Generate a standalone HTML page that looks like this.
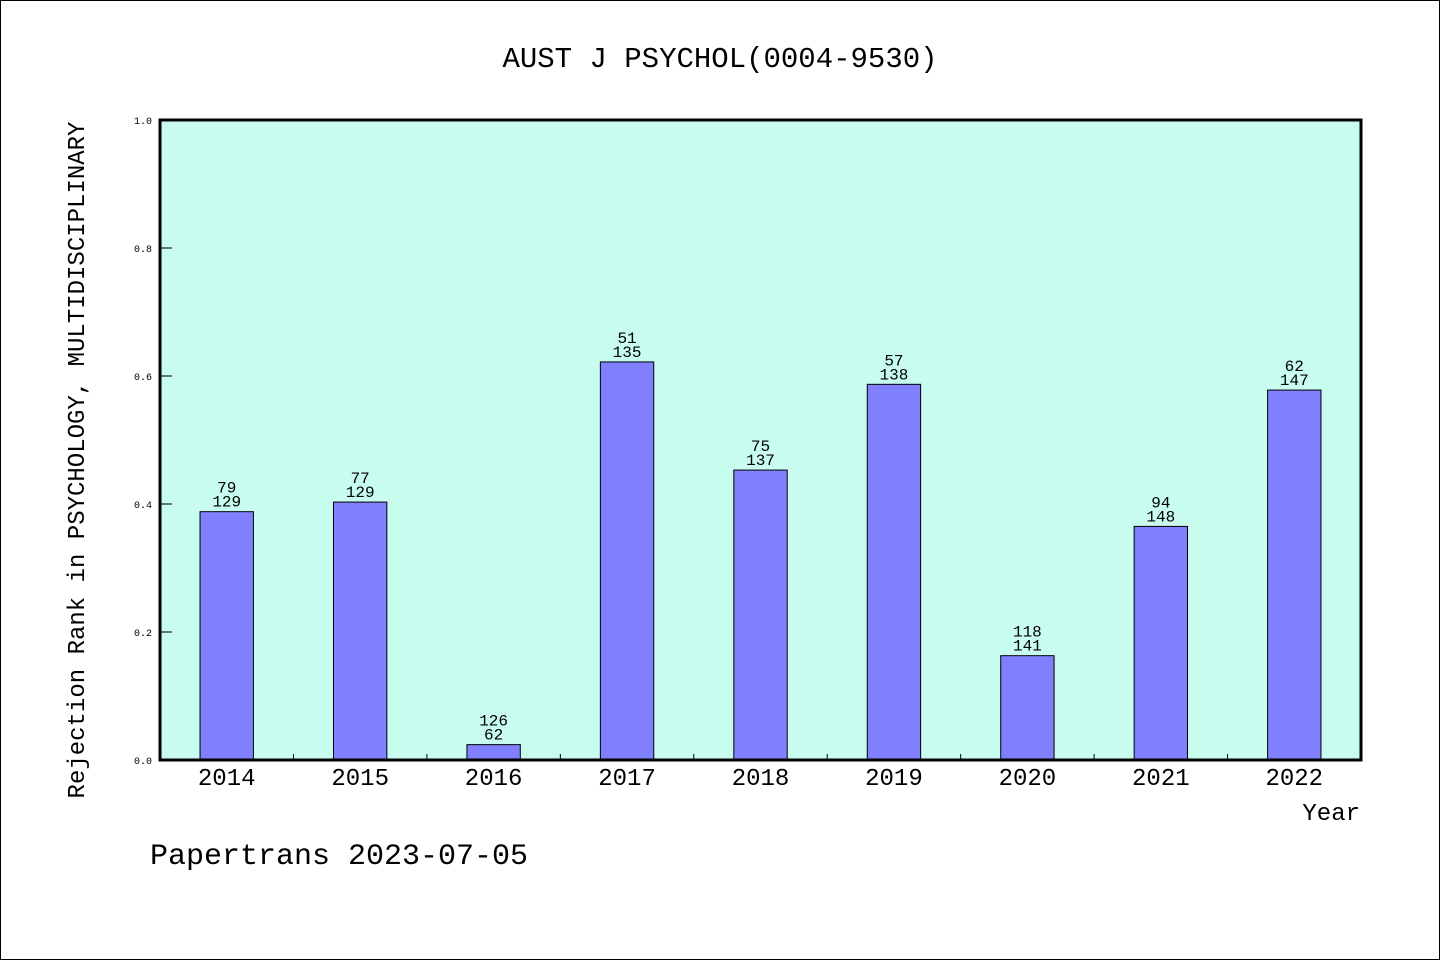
<!DOCTYPE html>
<html><head><meta charset="utf-8"><style>
body{margin:0;background:#fff}
svg{display:block;font-family:"Liberation Mono","DejaVu Sans Mono",monospace}
</style></head><body>
<svg width="1440" height="960" xmlns="http://www.w3.org/2000/svg">
<rect x="0.5" y="0.5" width="1439" height="959" fill="#fff" stroke="#000"/>
<text x="720" y="67" text-anchor="middle" font-size="29">AUST J PSYCHOL(0004-9530)</text>
<rect x="160" y="120" width="1201" height="640" fill="#c8fcee"/>
<g id="yticks"></g>
<g id="bars"></g>
<rect x="160" y="120" width="1201" height="640" fill="none" stroke="#000" stroke-width="3"/>
<g id="xlabels"></g>
<text x="1360" y="820" text-anchor="end" font-size="24">Year</text>
<text transform="translate(84,460) rotate(-90)" text-anchor="middle" font-size="24">Rejection Rank in PSYCHOLOGY, MULTIDISCIPLINARY</text>
<text x="150" y="864" font-size="30">Papertrans 2023-07-05</text>
</svg>
<script>
const categories=["2014","2015","2016","2017","2018","2019","2020","2021","2022"];
const values=[0.388,0.403,0.024,0.622,0.453,0.587,0.163,0.365,0.578];
const topLabels=["79","77","126","51","75","57","118","94","62"];
const bottomLabels=["129","129","62","135","137","138","141","148","147"];
const yTicks=[0,0.2,0.4,0.6,0.8,1.0];
const NS="http://www.w3.org/2000/svg";
const X0=160,W=1201,Y0=760,H=640;
const band=W/categories.length;
const xc=i=>X0+band*(i+0.5);
const y=v=>Y0-v*H;
function mk(tag,attrs,parent){const e=document.createElementNS(NS,tag);for(const k in attrs)e.setAttribute(k,attrs[k]);parent.appendChild(e);return e;}
const yt=document.getElementById('yticks');
yTicks.forEach(t=>{
  const l=mk('line',{x1:X0,x2:X0+12,y1:y(t),y2:y(t),stroke:'#000','stroke-width':1},yt);
  
  
  const tx=mk('text',{x:152,y:y(t)+4,'text-anchor':'end','font-size':10},yt);
  tx.textContent=t.toFixed(1);
  
  
});
const bg=document.getElementById('bars');
const bw=band*0.4;
categories.forEach((c,i)=>{
  if(i>0){const l=mk('line',{x1:X0+band*i,x2:X0+band*i,y1:Y0,y2:Y0-6,stroke:'#000','stroke-width':1},bg);
  
  }
  const r=mk('rect',{x:xc(i)-bw/2,y:y(values[i]),width:bw,height:values[i]*H,fill:'#8080ff',stroke:'#000','stroke-width':1},bg);
  
  
  const t1=mk('text',{x:xc(i),y:y(values[i])-19,'text-anchor':'middle','font-size':16},bg);
  t1.textContent=topLabels[i];
  
  
  const t2=mk('text',{x:xc(i),y:y(values[i])-5,'text-anchor':'middle','font-size':16},bg);
  t2.textContent=bottomLabels[i];
  
  
});
const xl=document.getElementById('xlabels');
categories.forEach((c,i)=>{
  const t=mk('text',{x:xc(i),y:785,'text-anchor':'middle','font-size':24},xl);
  t.textContent=c;
  
  
});
</script>
</body></html>
